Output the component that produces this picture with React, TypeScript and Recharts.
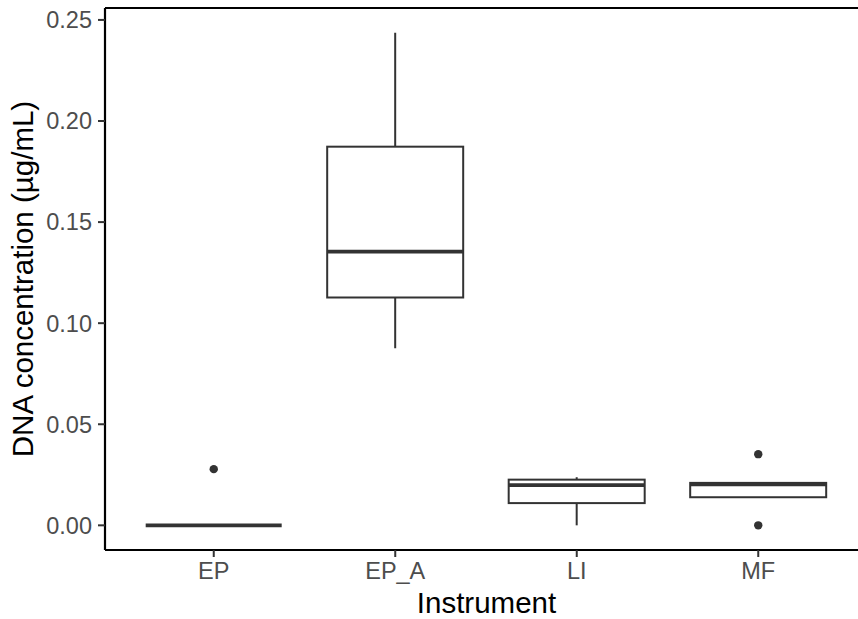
import React from "react";
import { ComposedChart, Bar, Scatter, XAxis, YAxis } from "recharts";

const instruments = ["EP", "EP_A", "LI", "MF"];
const whiskerLow = [0, 0.0876, 0, 0.0139];
const q1 = [0, 0.1127, 0.011, 0.0139];
const median = [0, 0.1354, 0.0199, 0.0202];
const q3 = [0, 0.1873, 0.0226, 0.021];
const whiskerHigh = [0, 0.2437, 0.0238, 0.021];
const outlierGroup = [0, 3, 3];
const outlierValue = [0.0278, 0.0352, 0];
const yTicks = [0, 0.05, 0.1, 0.15, 0.2, 0.25];

const boxes = instruments.map((name, i) => ({
    name,
    low: whiskerLow[i],
    q1: q1[i],
    median: median[i],
    q3: q3[i],
    high: whiskerHigh[i],
}));
const outliers = outlierGroup.map((g, i) => ({ x: g, y: outlierValue[i] }));

const FONT = "'Liberation Sans', Arial, Helvetica, sans-serif";
const INK = "#333333";
const yDomain = [-0.0122, 0.2559];
const xPad = { left: 18, right: 9 };

const BoxShape = (p: any) => {
    const top = Math.min(p.y, p.y + p.height);
    return <rect x={p.x} y={top} width={p.width} height={Math.abs(p.height)} fill="#fff" stroke={INK} strokeWidth={2} />;
};

const MedianShape = (p: any) => (
    <line x1={p.x} x2={p.x + p.width} y1={p.y} y2={p.y} stroke={INK} strokeWidth={3.6} />
);

const WhiskerShape = (p: any) => {
    const cx = p.x + p.width / 2;
    return <line x1={cx} x2={cx} y1={p.y} y2={p.y + p.height} stroke={INK} strokeWidth={2} />;
};

const Dot = (p: any) => <circle cx={p.cx} cy={p.cy} r={4.2} fill={INK} />;

const YTitle = (p: any) => {
    const vb = p.viewBox;
    const cx = vb.x + 33;
    const cy = vb.y + vb.height / 2;
    return (
        <text x={cx} y={cy} transform={`rotate(-90 ${cx} ${cy})`} textAnchor="middle" fontSize={29.5} fontFamily={FONT} fill="#000">
            DNA concentration (µg/mL)
        </text>
    );
};

const XTitle = (p: any) => {
    const vb = p.viewBox;
    return (
        <text x={vb.x + vb.width / 2 + 5} y={vb.y + 63} textAnchor="middle" fontSize={29.5} fontFamily={FONT} fill="#000">
            Instrument
        </text>
    );
};

const tickStyle = { fill: "#4D4D4D", fontSize: 23.5, fontFamily: FONT };

export default function App() {
    return (
        <div style={{ position: "absolute", left: 0, top: 0, width: 858, height: 619, background: "#fff", fontFamily: FONT }}>
            <ComposedChart width={858} height={619} data={boxes} margin={{ top: 0, right: 0, bottom: 0, left: 0 }} barCategoryGap="12.5%">
                <XAxis
                    xAxisId="box"
                    dataKey="name"
                    height={69}
                    padding={xPad}
                    tick={tickStyle}
                    tickSize={7}
                    tickMargin={5}
                    axisLine={{ stroke: "#000", strokeWidth: 2.2 }}
                    tickLine={{ stroke: "#333", strokeWidth: 2 }}
                    label={<XTitle />}
                />
                <XAxis xAxisId="top" dataKey="name" orientation="top" height={8} tick={false} tickLine={false} axisLine={{ stroke: "#000", strokeWidth: 2 }} />
                <XAxis xAxisId="med" dataKey="name" padding={xPad} hide />
                <XAxis xAxisId="whisk" dataKey="name" padding={xPad} hide />
                <XAxis xAxisId="num" type="number" dataKey="x" domain={[-0.5, 3.5]} padding={xPad} allowDataOverflow hide />
                <YAxis
                    width={105}
                    domain={yDomain}
                    ticks={yTicks}
                    allowDataOverflow
                    tickFormatter={(v: number) => v.toFixed(2)}
                    tick={tickStyle}
                    tickSize={7}
                    tickMargin={6}
                    axisLine={{ stroke: "#000", strokeWidth: 2.2 }}
                    tickLine={{ stroke: "#333", strokeWidth: 2 }}
                    label={<YTitle />}
                />
                <YAxis yAxisId="pts" dataKey="y" domain={yDomain} allowDataOverflow hide />
                <Bar xAxisId="whisk" dataKey={(d: any) => [d.low, d.high]} shape={<WhiskerShape />} isAnimationActive={false} />
                <Bar xAxisId="box" dataKey={(d: any) => [d.q1, d.q3]} shape={<BoxShape />} isAnimationActive={false} />
                <Bar xAxisId="med" dataKey={(d: any) => [d.median, d.median]} shape={<MedianShape />} isAnimationActive={false} />
                <Scatter xAxisId="num" yAxisId="pts" data={outliers} shape={<Dot />} isAnimationActive={false} />
            </ComposedChart>
        </div>
    );
}
